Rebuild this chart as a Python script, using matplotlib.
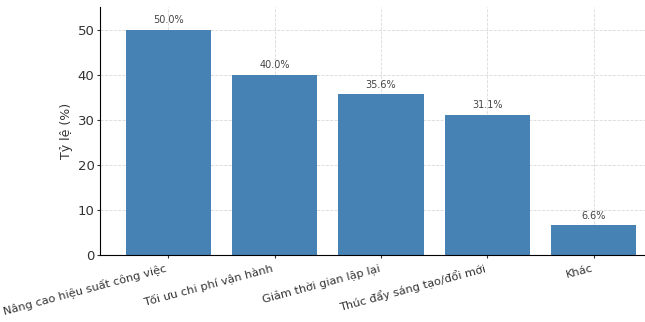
import matplotlib.pyplot as plt

# Survey results
categories = ["Nâng cao hiệu suất công việc", "Tối ưu chi phí vận hành",
              "Giảm thời gian lặp lại", "Thúc đẩy sáng tạo/đổi mới", "Khác"]
percentages = [50.0, 40.0, 35.6, 31.1, 6.6]

fig = plt.figure(figsize=(6.45, 3.22), dpi=100)
ax = fig.add_axes([100 / 645, 67 / 322, 562 / 645, 248 / 322])

bars = ax.bar(categories, percentages, color="steelblue", width=0.8, zorder=2)
for bar, p in zip(bars, percentages):
    ax.text(bar.get_x() + bar.get_width() / 2, p + 1.0, f"{p:.1f}%",
            ha="center", va="bottom", fontsize=7, color="#444444")

ax.set_ylim(0, 55)
ax.set_ylabel("Tỷ lệ (%)", fontsize=9, color="#333333", labelpad=3)
ax.grid(True, linestyle="--", linewidth=0.6, color="#d0d0d0", alpha=0.8, zorder=3)
ax.tick_params(axis="y", labelsize=9.5, colors="#333333", length=2, pad=2)
ax.tick_params(axis="x", labelsize=8.2, colors="#333333", length=2)
plt.setp(ax.get_xticklabels(), rotation=15, ha="right")
ax.spines["top"].set_visible(False)
ax.spines["right"].set_visible(False)

fig.savefig("out.png", dpi=100)
